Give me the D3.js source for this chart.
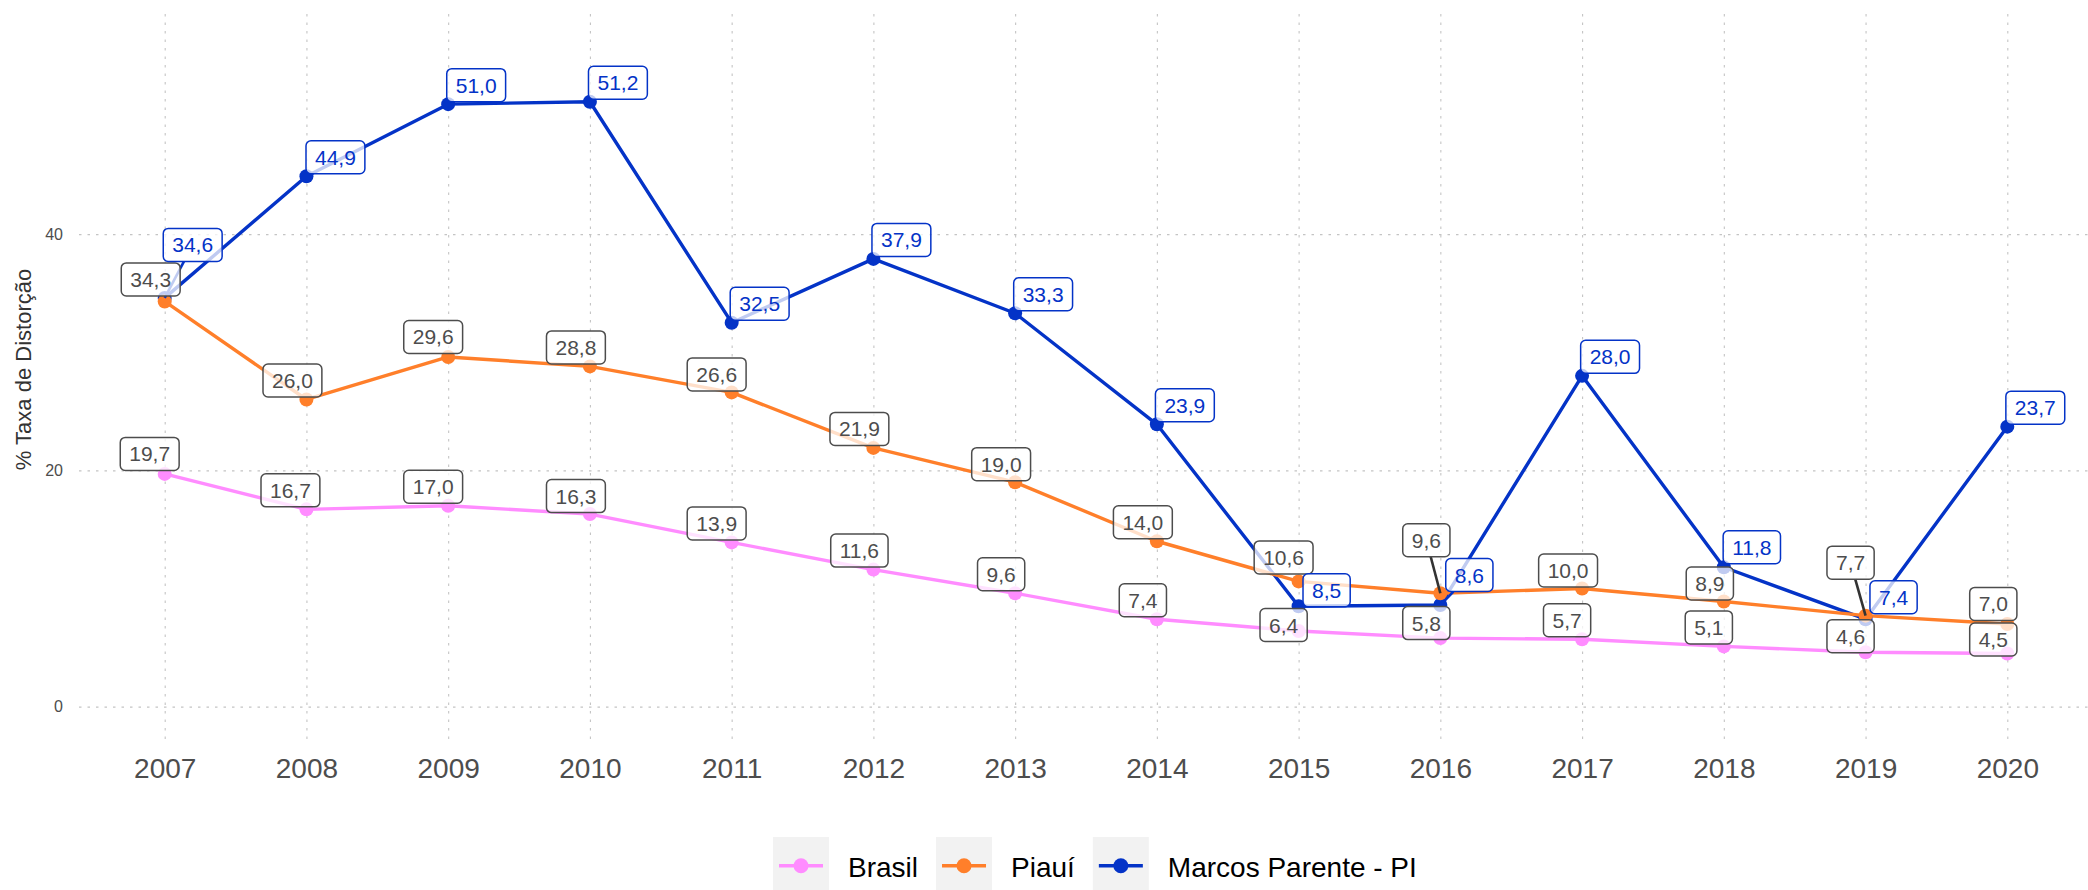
<!DOCTYPE html>
<html>
<head>
<meta charset="utf-8">
<script src="https://cdn.jsdelivr.net/npm/d3@7"></script>
<style>
  html, body { margin: 0; padding: 0; background: #ffffff; }
  svg { display: block; font-family: "Liberation Sans", Arial, Helvetica, sans-serif; }
</style>
</head>
<body>
<svg id="chart" width="2088" height="890"></svg>
<script>
// ---- data ----
const years = ["2007","2008","2009","2010","2011","2012","2013","2014","2015","2016","2017","2018","2019","2020"];
const brasil = [19.7, 16.7, 17.0, 16.3, 13.9, 11.6, 9.6, 7.4, 6.4, 5.8, 5.7, 5.1, 4.6, 4.5];
const piaui  = [34.3, 26.0, 29.6, 28.8, 26.6, 21.9, 19.0, 14.0, 10.6, 9.6, 10.0, 8.9, 7.7, 7.0];
const marcos = [34.6, 44.9, 51.0, 51.2, 32.5, 37.9, 33.3, 23.9, 8.5, 8.6, 28.0, 11.8, 7.4, 23.7];
const seriesNames = ["Brasil", "Piauí", "Marcos Parente - PI"];
const yTicks = [0, 20, 40];
const yTitle = "% Taxa de Distorção";

// ---- label placement (pixel nudges of each value box from its point) ----
const brasilNudge = [[-15,-20],[-16,-19],[-15,-19],[-14,-18],[-15,-19],[-14,-19],[-14,-19],
                     [-14,-19],[-15,-6],[-14,-15],[-15,-19],[-15,-19],[-15,-16],[-14,-14]];
const piauiNudge  = [[-14,-22],[-14,-19],[-15,-20],[-14,-19],[-15,-18],[-14,-19],[-14,-18],
                     [-14,-19],[-15,-24],[-14,-53],[-14,-18],[-14,-18],[-15,-53],[-14,-20]];
const marcosNudge = [[28,-53],[29,-19],[28,-19],[28,-19],[28,-19],[28,-19],[28,-19],
                     [28,-19],[28,-16],[29,-30],[28,-19],[28,-20],[28,-22],[28,-19]];

// ---- styles ----
const colors = { "Brasil": "#FF8CFF", "Piauí": "#FF7F2A", "Marcos Parente - PI": "#0433C7" };
const labelInk = { "Brasil": "#4D4D4D", "Piauí": "#4D4D4D", "Marcos Parente - PI": "#0433C7" };
const segInk = { "Brasil": "#333333", "Piauí": "#333333", "Marcos Parente - PI": "#0433C7" };

const W = 2088, H = 890;
const panel = { left: 79, right: 2088, top: 12, bottom: 739 };

const svg = d3.select("#chart");

const x = d3.scalePoint().domain(years).range([164.7, 2007.3]);
const y = d3.scaleLinear().domain([-2.74, 58.8]).range([panel.bottom, panel.top]);

const series = [
  { name: seriesNames[0], values: brasil, nudge: brasilNudge },
  { name: seriesNames[1], values: piaui,  nudge: piauiNudge },
  { name: seriesNames[2], values: marcos, nudge: marcosNudge }
];

// ---- grid + axes ----
const gridColor = "#C4C4C4";
const yAxis = d3.axisLeft(y).tickValues(yTicks).tickSize(-(panel.right - panel.left)).tickPadding(16)
  .tickFormat(d3.format("d"));
const gy = svg.append("g").attr("transform", `translate(${panel.left},0)`).call(yAxis);
gy.select(".domain").remove();
gy.selectAll("line").attr("stroke", gridColor).attr("stroke-width", 1.1).attr("stroke-dasharray", "2.5,6");
gy.selectAll("text").attr("fill", "#4D4D4D").style("font-size", "16px");

const xAxis = d3.axisBottom(x).tickSize(-(panel.bottom - panel.top)).tickPadding(19);
const gx = svg.append("g").attr("transform", `translate(0,${panel.bottom})`).call(xAxis);
gx.select(".domain").remove();
gx.selectAll("line").attr("stroke", gridColor).attr("stroke-width", 1.1).attr("stroke-dasharray", "2.5,6");
gx.selectAll("text").attr("fill", "#4D4D4D").style("font-size", "28px");

svg.append("text")
  .attr("transform", `translate(31,${(panel.top + panel.bottom) / 2 - 6}) rotate(-90)`)
  .attr("text-anchor", "middle")
  .attr("fill", "#333333")
  .style("font-size", "22px")
  .text(yTitle);

// ---- lines and points ----
const drawOrder = [series[2], series[1], series[0]];
const line = d3.line().x((d, i) => x(years[i])).y(d => y(d));

const gLines = svg.append("g");
drawOrder.forEach(s => {
  gLines.append("path")
    .datum(s.values)
    .attr("d", line)
    .attr("fill", "none")
    .attr("stroke", colors[s.name])
    .attr("stroke-width", 3.4)
    .attr("stroke-linejoin", "round");
});

const gPoints = svg.append("g");
drawOrder.forEach(s => {
  gPoints.selectAll(null)
    .data(s.values)
    .enter().append("circle")
    .attr("cx", (d, i) => x(years[i]))
    .attr("cy", d => y(d))
    .attr("r", 7)
    .attr("fill", colors[s.name]);
});

// ---- value labels ----
const fmt = v => d3.format(".1f")(v).replace(".", ",");
const boxH = 33, padX = 9, fontPx = 21;
const gSeg = svg.append("g");
const gLab = svg.append("g");

// measure once
const probe = svg.append("text").style("font-size", fontPx + "px").attr("visibility", "hidden");
function textWidth(t) { probe.text(t); return probe.node().getComputedTextLength(); }

function boxEdgePoint(px, py, cx, cy, hw, hh) {
  const dx = px - cx, dy = py - cy;
  const tx = dx !== 0 ? hw / Math.abs(dx) : Infinity;
  const ty = dy !== 0 ? hh / Math.abs(dy) : Infinity;
  const t = Math.min(tx, ty);
  return [cx + dx * t, cy + dy * t];
}

series.forEach(s => {
  s.values.forEach((v, i) => {
    const px = x(years[i]), py = y(v);
    const cx = px + s.nudge[i][0], cy = py + s.nudge[i][1];
    const label = fmt(v);
    const w = textWidth(label) + 2 * padX;
    const hw = w / 2, hh = boxH / 2;
    // leader segment when the box sits away from its point
    const ex = Math.max(cx - hw, Math.min(px, cx + hw));
    const ey = Math.max(cy - hh, Math.min(py, cy + hh));
    const gap = Math.hypot(px - ex, py - ey);
    if (gap > 12) {
      const [bx, by] = boxEdgePoint(px, py, cx, cy, hw, hh);
      gSeg.append("line")
        .attr("x1", px).attr("y1", py).attr("x2", bx).attr("y2", by)
        .attr("stroke", segInk[s.name]).attr("stroke-width", 2.6);
    }
    const g = gLab.append("g");
    g.append("rect")
      .attr("x", cx - hw).attr("y", cy - hh)
      .attr("width", w).attr("height", boxH)
      .attr("rx", 5).attr("ry", 5)
      .attr("fill", "rgba(255,255,255,0.75)")
      .attr("stroke", labelInk[s.name])
      .attr("stroke-width", 1.5);
    g.append("text")
      .attr("x", cx).attr("y", cy + 7.5)
      .attr("text-anchor", "middle")
      .attr("fill", labelInk[s.name])
      .style("font-size", fontPx + "px")
      .text(label);
  });
});
probe.remove();

// ---- legend ----
const legend = svg.append("g");
const keySize = 56, keyTop = 837;
let lx = 773;
series.forEach(s => {
  const item = legend.append("g");
  item.append("rect").attr("x", lx).attr("y", keyTop).attr("width", keySize).attr("height", keySize)
    .attr("fill", "#F2F2F2");
  item.append("line").attr("x1", lx + 6).attr("x2", lx + keySize - 6)
    .attr("y1", keyTop + 28.7).attr("y2", keyTop + 28.7)
    .attr("stroke", colors[s.name]).attr("stroke-width", 3.4);
  item.append("circle").attr("cx", lx + keySize / 2).attr("cy", keyTop + 28.7).attr("r", 7.5)
    .attr("fill", colors[s.name]);
  const t = item.append("text").attr("x", lx + keySize + 19).attr("y", 877)
    .attr("fill", "#000000").style("font-size", "28px").text(s.name);
  lx = lx + keySize + 19 + t.node().getComputedTextLength() + 18;
});
</script>
</body>
</html>
